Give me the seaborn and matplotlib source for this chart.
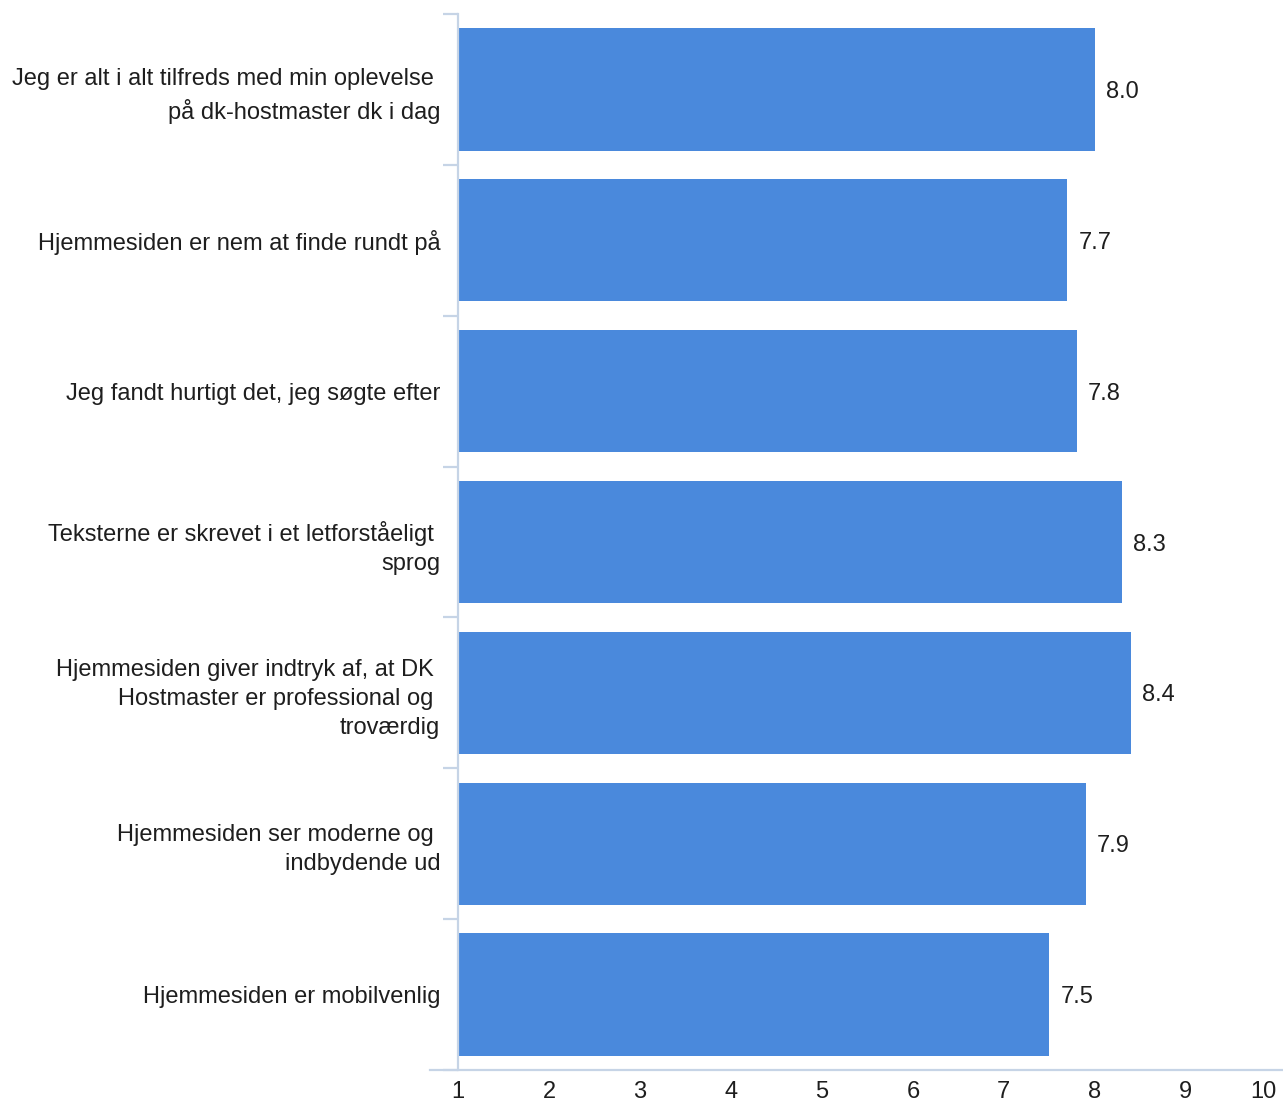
import matplotlib
matplotlib.use("Agg")
import matplotlib.pyplot as plt
import seaborn as sns
import pandas as pd

categories = [
    "Jeg er alt i alt tilfreds med min oplevelse \npå dk-hostmaster dk i dag",
    "Hjemmesiden er nem at finde rundt på",
    "Jeg fandt hurtigt det, jeg søgte efter",
    "Teksterne er skrevet i et letforståeligt \nsprog",
    "Hjemmesiden giver indtryk af, at DK \nHostmaster er professional og \ntroværdig",
    "Hjemmesiden ser moderne og \nindbydende ud",
    "Hjemmesiden er mobilvenlig",
]
scores = [8.0, 7.7, 7.8, 8.3, 8.4, 7.9, 7.5]
value_labels = ["8.0", "7.7", "7.8", "8.3", "8.4", "7.9", "7.5"]
x_ticks = [1, 2, 3, 4, 5, 6, 7, 8, 9, 10]
scale_min = 1

BAR = "#4a89dc"
AXIS = "#c6d4e6"
TEXT = "#1e1e1e"

sns.set_theme(style="white")
plt.rcParams["font.family"] = ["Liberation Sans", "DejaVu Sans"]

W, H = 1283, 1104
fig = plt.figure(figsize=(W / 100, H / 100), dpi=100)
ax = fig.add_axes([430 / W, 34 / H, 853 / W, 1056 / H])

df = pd.DataFrame({"category": categories, "score": scores})
# bars start at the scale minimum (1); length is the score above it
df["above_min"] = df["score"] - scale_min
sns.barplot(data=df, y="category", x="above_min", orient="h", color=BAR,
            saturation=1, width=0.81, left=scale_min, ax=ax, linewidth=0)

ax.set_xlim(0.69, 10.07)
ax.set_ylim(len(categories) - 0.5, -0.5)
ax.set_xlabel("")
ax.set_ylabel("")

for s in ["top", "right"]:
    ax.spines[s].set_visible(False)
ax.spines["left"].set_position(("data", scale_min))
ax.spines["left"].set_color(AXIS)
ax.spines["left"].set_linewidth(1.6)
ax.spines["bottom"].set_color(AXIS)
ax.spines["bottom"].set_linewidth(1.6)

ax.set_xticks(x_ticks)
ax.set_xticklabels([str(t) for t in x_ticks])
ax.tick_params(axis="x", length=0, pad=8, labelsize=17, labelcolor=TEXT)
ax.get_xticklabels()[-1].set_ha("right")

ax.set_yticks(range(len(categories)))
ax.set_yticklabels(categories)
ax.set_yticks([i - 0.5 for i in range(len(categories) + 1)], minor=True)
ax.tick_params(axis="y", which="major", length=0, pad=13, labelsize=17,
               labelcolor=TEXT)
ax.tick_params(axis="y", which="minor", length=11, width=1.6, color=AXIS,
               left=True)
for lab in ax.get_yticklabels():
    lab.set_linespacing(1.42)

for cont in ax.containers:
    texts = ax.bar_label(cont, labels=value_labels, padding=8, fontsize=17,
                         color=TEXT)
    for t in texts:
        t.set_va("center_baseline")

fig.savefig("out.png", dpi=100)
